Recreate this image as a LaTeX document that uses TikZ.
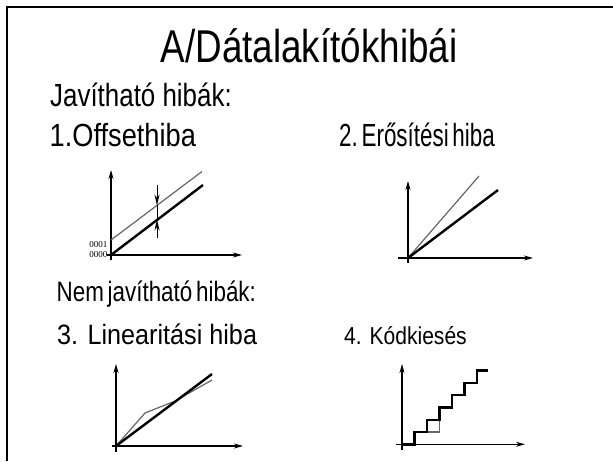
\documentclass[tikz,border=0pt]{standalone}
\usepackage{fontspec}
\setmainfont{Liberation Sans}
\newfontfamily\codefont{Liberation Serif}
\usepackage{graphicx}
\usetikzlibrary{arrows.meta}
\newcommand{\squeeze}[2]{\scalebox{#1}[1]{#2}}

\begin{document}
\begin{tikzpicture}[
  x=1pt, y=-1pt,
  txt/.style={anchor=base west, inner sep=0pt},
  big/.style={font=\fontsize{46pt}{50pt}\selectfont},
  sub/.style={font=\fontsize{32pt}{36pt}\selectfont},
  subb/.style={font=\fontsize{28pt}{32pt}\selectfont},
  code/.style={anchor=east, inner sep=0pt, font=\codefont\fontsize{9pt}{10pt}\selectfont},
  axis/.style={draw, line width=1.1pt, -{Stealth[length=9pt,width=5pt]}},
  gapmark/.style={draw, line width=1pt, -{Stealth[length=11pt,width=5pt]}},
  ideal/.style={draw, line width=2.4pt},
  real/.style={draw, black!60, line width=1.2pt}
]
\useasboundingbox (0,0) rectangle (613,461);
\draw[line width=2.5pt] (7,461) -- (7,7) -- (613,7);

% headings
\node[big, anchor=base, inner sep=0pt] (title) at (309,62)
  {\squeeze{0.80}{A/Dátalakítókhibái}};
\node[sub, txt] (fix)  at (50,106) {\squeeze{0.81}{Javítható hibák:}};
\node[sub, txt] (t1)   at (49.5,146) {\squeeze{0.85}{1.Offsethiba}};
\node[sub, txt] (t2)   at (339,146) {\squeeze{0.70}{2.\,Erősítési\,hiba}};
\node[subb, txt] (nofix) at (56.5,301) {\squeeze{0.80}{Nem\,javítható\,hibák:}};
\node[subb, txt] (t3)  at (57,344) {\squeeze{0.90}{3. Linearitási hiba}};
\node[txt, font=\fontsize{24.5pt}{28pt}\selectfont] (t4) at (344,344)
  {\squeeze{0.86}{4. Kódkiesés}};

% 1. offset
\draw[axis] (107,255) -- (242,255);
\draw[axis] (111,260) -- (111,170);
\draw[ideal] (111,255) -- (203,185);
\draw[real] (111,240) -- (202,171.5);
\node[code] (c1) at (107.5,245) {0001};
\node[code] (c0) at (107.5,255) {0000};
\draw[gapmark] (157,185) -- (157,205.5);
\draw[line width=1pt] (157,205) -- (157,220);
\draw[gapmark] (157,238) -- (157,219.5);

% 2. gain
\draw[axis] (398,258) -- (533,258);
\draw[axis] (408,263) -- (408,181);
\draw[real] (408,258) -- (479,176);
\draw[ideal] (408,258) -- (498,190);

% 3. linearity
\draw[axis] (112,446) -- (243,446);
\draw[axis] (116,452) -- (116,364);
\draw[real] (116,446) -- (145,413) -- (175,401) -- (212,380);
\draw[ideal] (116,446) -- (212,374);

% 4. missing code
\draw[axis] (396,444.3) -- (525,444.3);
\draw[axis] (402,450) -- (402,364);
\draw[real] (426.7,432) -- (439.3,432) -- (439.3,419.7);
\draw[ideal, line join=miter] (402,444.3) -- (414.3,444.3) -- (414.3,432)
  -- (426.7,432) -- (426.7,419.7) -- (439.3,419.7) -- (439.3,407.4)
  -- (451.7,407.4) -- (451.7,395.1) -- (464.3,395.1) -- (464.3,382.8)
  -- (476.7,382.8) -- (476.7,370.5) -- (488.3,370.5);
\end{tikzpicture}
\end{document}
